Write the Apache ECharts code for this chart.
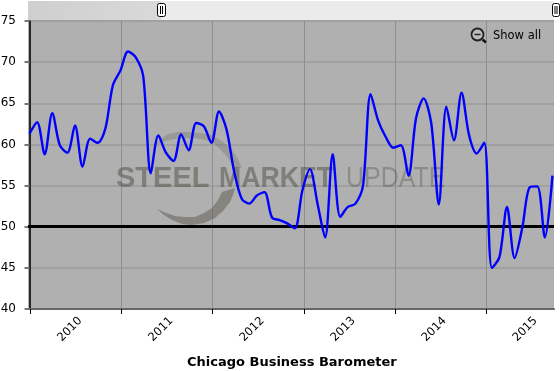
<!DOCTYPE html>
<html><head><meta charset="utf-8">
<script src="https://cdn.jsdelivr.net/npm/echarts@6/dist/echarts.min.js"></script>
<style>html,body{margin:0;padding:0;background:#fff}#c{width:560px;height:371px}</style></head>
<body><div id="c"></div>
<script>
const chartTitle = 'Chicago Business Barometer';
const yearLabels = [2010, 2011, 2012, 2013, 2014, 2015];
const barometer = [
 61.3,62.7,58.8,63.8,59.9,59.0,62.3,57.3,60.7,60.2,61.9,67.2,
 69.0,71.3,70.6,68.3,56.5,61.1,59.0,58.0,61.2,59.3,62.6,62.2,
 60.2,64.0,61.8,56.7,53.4,52.8,53.8,54.2,51.1,50.8,50.4,49.8,
 54.4,57.0,52.8,48.7,58.8,51.2,52.4,52.8,55.0,66.1,62.9,60.9,
 59.6,59.9,56.2,63.2,65.6,62.6,52.7,64.6,60.5,66.3,61.1,58.9,
 60.2,45.0,46.3,52.4,46.2,49.8,54.8,54.9,48.7,56.2
];
const threshold = 50;
const yearTicks = [0.13, 12.15, 24.17, 36.2, 48.2, 60.2];
const labelAnchors = [6.7, 18.72, 30.74, 42.77, 54.77, 66.77];

const chart = echarts.init(document.getElementById('c'), null, {renderer:'canvas'});
const wm = 'rgba(78,78,68,0.5)';
const wmText = (x,text,weight,sx,fill)=>({type:'text',z:1,x:x,y:164,scaleX:sx,
  style:{x:0,y:0,text,fontFamily:'Liberation Sans',fontWeight:weight,fontSize:29,fill}});
chart.setOption({
  animation:false,
  backgroundColor:'#fff',
  title:{text:chartTitle,left:187,top:356,padding:0,
    textStyle:{fontFamily:'DejaVu Sans',fontSize:13,fontWeight:'bold',color:'#000'}},
  grid:{left:28,right:6,top:21,bottom:62,show:true,backgroundColor:'#b0b0b0',borderWidth:0,outerBoundsMode:'none'},
  xAxis:{type:'value',min:-0.2,max:69.2,
    axisLine:{onZero:false,lineStyle:{color:'#666',width:2}},
    axisTick:{show:true,length:5,customValues:yearTicks,lineStyle:{color:'#000',width:1}},
    splitLine:{show:true,customValues:yearTicks,lineStyle:{color:'#8e8e8e',width:1}},
    minorTick:{show:false},
    axisLabel:{customValues:labelAnchors,rotate:45,margin:10,fontFamily:'DejaVu Sans',fontSize:11.5,color:'#000',
      formatter:v=>String(yearLabels[Math.floor(v/12)])}},
  yAxis:{type:'value',min:40,max:75,interval:5,
    axisLine:{show:true,lineStyle:{color:'#000',width:1.5}},
    axisTick:{show:true,length:5,lineStyle:{color:'#777',width:2}},
    splitLine:{show:true,lineStyle:{color:'#a0a0a0',width:2}},
    axisLabel:{margin:12,fontFamily:'DejaVu Sans',fontSize:12,color:'#000'}},
  series:[{type:'line',data:barometer.map((v,i)=>[i,v]),smooth:0.3,showSymbol:false,z:5,
    lineStyle:{color:'#0000ff',width:2.4},
    markLine:{silent:true,symbol:'none',label:{show:false},animation:false,
      lineStyle:{color:'#000',width:3,type:'solid'},data:[{yAxis:threshold}]}}],
  graphic:[
    {type:'rect',z:0,shape:{x:28,y:1,width:526,height:20},style:{fill:'#ebebeb'}},
    {type:'rect',z:0,shape:{x:28,y:1,width:133,height:20},style:{fill:new echarts.graphic.LinearGradient(0,0,1,0,[{offset:0,color:'#cfcfcf'},{offset:1,color:'#d9d9d9'}])}},
    {type:'rect',z:3,shape:{x:157.5,y:3.5,width:8,height:13,r:2},style:{fill:'#fff',stroke:'#000',lineWidth:1}},
    {type:'line',z:3,shape:{x1:160.5,y1:6,x2:160.5,y2:14},style:{stroke:'#000',lineWidth:1}},
    {type:'line',z:3,shape:{x1:162.5,y1:6,x2:162.5,y2:14},style:{stroke:'#000',lineWidth:1}},
    {type:'rect',z:3,shape:{x:552.5,y:3.5,width:7,height:13,r:2},style:{fill:'#fff',stroke:'#000',lineWidth:1}},
    {type:'line',z:3,shape:{x1:555,y1:6,x2:555,y2:14},style:{stroke:'#000',lineWidth:1}},
    {type:'line',z:3,shape:{x1:557,y1:6,x2:557,y2:14},style:{stroke:'#000',lineWidth:1}},
    {type:'polygon',z:1,shape:{points:[[157,209],[164,215],[172,220],[182,224],[192,225],[204,223],[215,218],[223,211],[230,202],[233,195],[235,188],[222,192],[218,200],[212,208],[204,213],[195,217],[185,217],[175,216],[166,213]]},style:{fill:'rgba(90,88,78,0.5)'}},
    {type:'polygon',z:1,shape:{points:[[155,145],[161,139],[168,134],[178,132],[188,132],[200,133],[212,135],[223,142],[232,150],[238,159],[242,168],[233,167],[228,158],[220,149],[212,142],[202,139],[192,138],[180,138],[170,140],[162,142]]},style:{fill:'rgba(90,88,78,0.26)'}},
    wmText(116,'STEEL','bold',1,wm),
    wmText(219,'MARKET','bold',0.92,wm),
    wmText(346,'UPDATE','normal',0.86,'rgba(78,78,68,0.36)'),
    {type:'circle',z:6,shape:{cx:477.5,cy:34.5,r:6},style:{fill:'#bbb',stroke:'#222',lineWidth:1.8}},
    {type:'line',z:6,shape:{x1:474.5,y1:34.5,x2:480.5,y2:34.5},style:{stroke:'#222',lineWidth:1.5}},
    {type:'line',z:6,shape:{x1:482.5,y1:39.5,x2:486,y2:42.5},style:{stroke:'#111',lineWidth:2.5}},
    {type:'text',z:6,style:{x:493,y:30,text:'Show all',fontFamily:'DejaVu Sans',fontSize:11.5,fill:'#000'}}
  ]
});
</script></body></html>
